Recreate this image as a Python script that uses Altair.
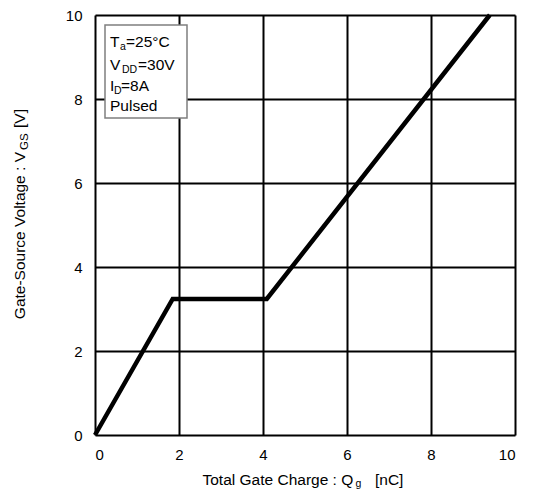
import altair as alt
import pandas as pd

# ---- data ----
charge_nc = [0.0, 1.85, 4.09, 9.4]     # Total gate charge Qg [nC]
vgs_v = [0.0, 3.24, 3.24, 10.0]        # Gate-source voltage VGS [V]
x_ticks = [0, 2, 4, 6, 8, 10]
y_ticks = [0, 2, 4, 6, 8, 10]

FONT = "Liberation Sans"
W, H = 420, 420

df = pd.DataFrame({"qg": charge_nc, "vgs": vgs_v})

xs = alt.Scale(domain=[0, 10], nice=False, zero=False)
ys = alt.Scale(domain=[0, 10], nice=False, zero=False)

line = alt.Chart(df).mark_line(color="black", strokeWidth=4.5, strokeCap="butt", strokeJoin="miter").encode(
    x=alt.X("qg:Q", scale=xs,
            axis=alt.Axis(values=x_ticks, format="d", title=None, grid=True, gridColor="black",
                          gridWidth=2, gridOpacity=1, domain=False, ticks=False,
                          labelFontSize=15, labelFont=FONT, labelColor="black", labelPadding=12)),
    y=alt.Y("vgs:Q", scale=ys,
            axis=alt.Axis(values=y_ticks, format="d", title=None, grid=True, gridColor="black",
                          gridWidth=2, gridOpacity=1, domain=False, ticks=False,
                          labelFontSize=15, labelFont=FONT, labelColor="black", labelPadding=13)),
)

one = pd.DataFrame({"k": [0]})


def txt(s, x, y, size=15.5, angle=0, align="left", baseline="alphabetic"):
    return alt.Chart(one).mark_text(
        font=FONT, fontSize=size, color="black", align=align, baseline=baseline, angle=angle
    ).encode(x=alt.value(x), y=alt.value(y), text=alt.value(s))


box = alt.Chart(one).mark_rect(fill="white", stroke="#7f7f7f", strokeWidth=1.5).encode(
    x=alt.value(10), x2=alt.value(92), y=alt.value(10), y2=alt.value(103)
)

legend_layers = [
    txt("T", 15, 32), txt("a", 25, 35, size=10.5), txt("=25°C", 31, 32),
    txt("V", 15, 55), txt("DD", 27, 58, size=10.5), txt("=30V", 43, 55),
    txt("I", 15, 75.5), txt("D", 19, 78.5, size=10.5), txt("=8A", 26, 75.5),
    txt("Pulsed", 15, 95.5),
]

# x-axis title with subscript
xtitle = [
    txt("Total Gate Charge : Q", 107.5, 469.5),
    txt("g", 260.5, 472, size=10.5),
    txt("[nC]", 280, 469.5),
]

# y-axis title (rotated) with subscript
ytitle = [
    txt("Gate-Source Voltage : V", -70, 137, angle=270, align="right"),
    txt("GS", -67, 135, size=11.5, angle=270, align="left"),
    txt("[V]", -70, 113, angle=270, align="left"),
]

chart = alt.layer(line, box, *legend_layers, *xtitle, *ytitle).properties(
    width=W, height=H,
    autosize=alt.AutoSizeParams(type="none"),
    padding={"left": 87, "top": 7, "right": 10, "bottom": 55},
).configure_view(stroke="black", strokeWidth=4.5).configure(background="white")

chart.save("out.html", embed_options={"renderer": "svg", "actions": False})
